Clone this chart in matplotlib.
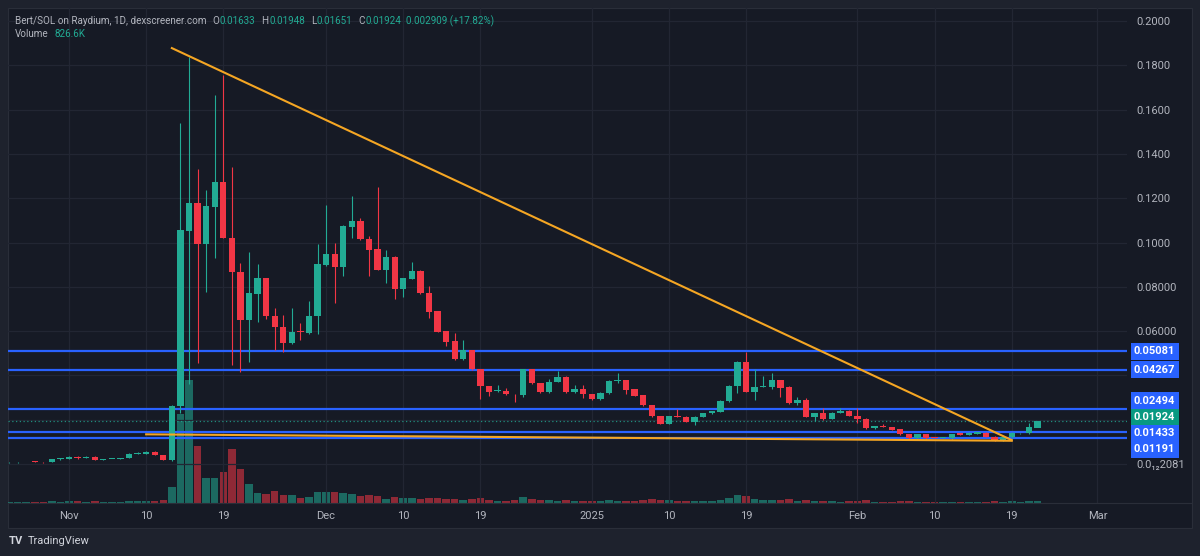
import matplotlib
matplotlib.use("Agg")
import matplotlib.pyplot as plt
import matplotlib.dates as mdates
import numpy as np
import pandas as pd
from matplotlib.patches import Rectangle
from matplotlib.lines import Line2D

plt.rcParams["font.family"] = ["Roboto", "DejaVu Sans"]

# daily candles, 2024-10-25 .. 2025-02-22
dates = pd.date_range("2024-10-25", "2025-02-22", freq="D")

opens = [
    # Oct 25-31
    0.0007, 0.0008, 0.0008, 0.0012, 0.0010, 0.0008, 0.0021,
    # Nov
    0.0024, 0.0033, 0.0026, 0.0033, 0.0019, 0.0022, 0.0022, 0.0026, 0.0046, 0.0045,
    0.0056, 0.0041, 0.0018, 0.0263, 0.1053, 0.1180, 0.0992, 0.1162, 0.1272, 0.1022,
    0.0868, 0.0650, 0.0766, 0.0838, 0.0670, 0.0620, 0.0545, 0.0599, 0.0590, 0.0668,
    # Dec
    0.0898, 0.0948, 0.0888, 0.1071, 0.1097, 0.1015, 0.0969, 0.0876, 0.0936, 0.0789,
    0.0837, 0.0873, 0.0771, 0.0691, 0.0600, 0.0555, 0.0473, 0.0515, 0.0428, 0.0352,
    0.0329, 0.0331, 0.0317, 0.0312, 0.0429, 0.0364, 0.0324, 0.0372, 0.0394, 0.0324, 0.0339,
    # Jan
    0.0316, 0.0292, 0.0319, 0.0377, 0.0379, 0.0337, 0.0311, 0.0266, 0.0217, 0.0181,
    0.0216, 0.0214, 0.0191, 0.0214, 0.0229, 0.0236, 0.0284, 0.0354, 0.0461, 0.0326,
    0.0348, 0.0349, 0.0379, 0.0349, 0.0274, 0.0289, 0.0214, 0.0232, 0.0205, 0.0232, 0.0241,
    # Feb 1-22
    0.0217, 0.0205, 0.0161, 0.0169, 0.0166, 0.0158, 0.0135, 0.0116, 0.0135, 0.0120,
    0.0119, 0.0116, 0.0138, 0.0133, 0.0137, 0.0141, 0.0123, 0.0105, 0.0121, 0.0139,
    0.0139, 0.01633,
]
highs = [
    0.0010, 0.0010, 0.0011, 0.0013, 0.0011, 0.0023, 0.0027,
    0.0035, 0.0035, 0.0035, 0.0034, 0.0024, 0.0024, 0.0029, 0.0050, 0.0056, 0.0060,
    0.0058, 0.0042, 0.0265, 0.1540, 0.1840, 0.1330, 0.1237, 0.1666, 0.1756, 0.1340,
    0.0907, 0.0959, 0.0903, 0.0840, 0.0704, 0.0673, 0.0704, 0.0637, 0.0737, 0.0992,
    0.1170, 0.0999, 0.1080, 0.1210, 0.1112, 0.1031, 0.1252, 0.0966, 0.0938, 0.0840,
    0.0913, 0.0875, 0.0804, 0.0693, 0.0602, 0.0590, 0.0560, 0.0517, 0.0430, 0.0354,
    0.0357, 0.0345, 0.0318, 0.0431, 0.0431, 0.0366, 0.0384, 0.0420, 0.0396, 0.0357, 0.0357,
    0.0318, 0.0324, 0.0378, 0.0410, 0.0381, 0.0339, 0.0313, 0.0268, 0.0219, 0.0219,
    0.0250, 0.0216, 0.0216, 0.0231, 0.0241, 0.0288, 0.0356, 0.0463, 0.0507, 0.0428,
    0.0397, 0.0410, 0.0381, 0.0351, 0.0301, 0.0296, 0.0231, 0.0251, 0.0234, 0.0251, 0.0243,
    0.0251, 0.0207, 0.0173, 0.0181, 0.0168, 0.0160, 0.0137, 0.0137, 0.0137, 0.0122,
    0.0122, 0.0137, 0.0140, 0.0143, 0.0145, 0.0143, 0.0125, 0.0123, 0.0143, 0.0142,
    0.0184, 0.01948,
]
lows = [
    0.0006, 0.0006, 0.0007, 0.0009, 0.0006, 0.0007, 0.0020,
    0.0023, 0.0024, 0.0025, 0.0017, 0.0018, 0.0021, 0.0021, 0.0025, 0.0044, 0.0044,
    0.0040, 0.0016, 0.0015, 0.0230, 0.0360, 0.0457, 0.0778, 0.0930, 0.1020, 0.0447,
    0.0417, 0.0462, 0.0643, 0.0655, 0.0515, 0.0507, 0.0543, 0.0560, 0.0588, 0.0587,
    0.0896, 0.0728, 0.0849, 0.1019, 0.1012, 0.0849, 0.0874, 0.0816, 0.0744, 0.0753,
    0.0835, 0.0769, 0.0660, 0.0595, 0.0533, 0.0471, 0.0471, 0.0426, 0.0292, 0.0307,
    0.0326, 0.0313, 0.0281, 0.0301, 0.0362, 0.0322, 0.0322, 0.0370, 0.0322, 0.0322, 0.0299,
    0.0290, 0.0290, 0.0317, 0.0364, 0.0315, 0.0305, 0.0263, 0.0213, 0.0179, 0.0179,
    0.0212, 0.0189, 0.0175, 0.0212, 0.0227, 0.0234, 0.0282, 0.0319, 0.0324, 0.0289,
    0.0346, 0.0340, 0.0301, 0.0272, 0.0265, 0.0212, 0.0196, 0.0199, 0.0203, 0.0230, 0.0215,
    0.0187, 0.0159, 0.0159, 0.0165, 0.0153, 0.0133, 0.0114, 0.0114, 0.0114, 0.0117,
    0.0117, 0.0114, 0.0129, 0.0131, 0.0135, 0.0121, 0.0103, 0.0103, 0.0119, 0.0137,
    0.0137, 0.01651,
]
closes = [
    0.0008, 0.0008, 0.0010, 0.0010, 0.0007, 0.0021, 0.0025,
    0.0033, 0.0025, 0.0033, 0.0018, 0.0023, 0.0023, 0.0028, 0.0045, 0.0048, 0.0056,
    0.0041, 0.0018, 0.0262, 0.1057, 0.1180, 0.0992, 0.1165, 0.1272, 0.1022, 0.0868,
    0.0650, 0.0771, 0.0838, 0.0668, 0.0620, 0.0545, 0.0595, 0.0596, 0.0670, 0.0903,
    0.0948, 0.0888, 0.1075, 0.1097, 0.1015, 0.0966, 0.0876, 0.0936, 0.0789, 0.0838,
    0.0871, 0.0771, 0.0688, 0.0597, 0.0552, 0.0473, 0.0515, 0.0428, 0.0352, 0.0326,
    0.0331, 0.0315, 0.0315, 0.0429, 0.0364, 0.0324, 0.0372, 0.0394, 0.0324, 0.0339, 0.0315,
    0.0292, 0.0322, 0.0376, 0.0379, 0.0334, 0.0307, 0.0265, 0.0215, 0.0181, 0.0217,
    0.0214, 0.0191, 0.0214, 0.0229, 0.0239, 0.0286, 0.0354, 0.0461, 0.0326, 0.0346,
    0.0349, 0.0379, 0.0345, 0.0274, 0.0289, 0.0214, 0.0229, 0.0205, 0.0232, 0.0241, 0.0217,
    0.0205, 0.0161, 0.0171, 0.0167, 0.0155, 0.0135, 0.0116, 0.0135, 0.0116, 0.0119,
    0.0120, 0.0135, 0.0131, 0.0141, 0.0143, 0.0123, 0.0105, 0.0121, 0.0141, 0.0140,
    0.0166, 0.01924,
]
# volume in millions
volumes = [
    0.5, 0.4, 0.6, 0.6, 0.5, 0.8, 0.6,
    0.8, 0.7, 0.6, 0.9, 0.6, 0.5, 0.6, 1.0, 0.8, 0.8, 0.8, 1.2, 6.4, 35.6, 49.2,
    22.8, 10.0, 10.0, 12.4, 21.6, 13.6, 7.6, 4.0, 3.6, 4.8, 3.2, 3.2, 2.0, 2.4, 4.4,
    4.4, 4.4, 4.0, 3.6, 2.8, 3.2, 2.8, 1.6, 2.4, 2.0, 2.0, 1.6, 2.0, 2.0, 1.6, 1.6,
    1.2, 1.6, 2.0, 1.2, 1.0, 1.0, 1.2, 2.4, 1.6, 1.2, 1.2, 1.0, 1.2, 0.8, 1.0,
    0.8, 0.8, 1.2, 1.0, 1.0, 0.8, 1.2, 1.6, 1.2, 1.2, 0.8, 0.8, 0.8, 0.8, 0.8, 1.2,
    2.0, 3.2, 2.8, 1.6, 1.2, 1.2, 1.2, 1.6, 0.8, 1.2, 0.8, 0.8, 0.8, 0.6, 0.8,
    0.8, 1.2, 0.6, 0.6, 0.6, 0.8, 0.8, 0.6, 0.6, 0.4, 0.4, 0.6, 0.4, 0.4, 0.4, 0.6,
    0.8, 0.6, 0.8, 0.4, 0.8, 0.8266,
]

levels = [0.05081, 0.04267, 0.02494, 0.01433, 0.01191]
trend_top_dates = ["2024-11-13", "2025-02-19"]
trend_top_prices = [0.1878, 0.0108]
trend_bot_dates = ["2024-11-10", "2025-02-19"]
trend_bot_prices = [0.0134, 0.0105]

tick_dates = ["2024-11-01", "2024-11-10", "2024-11-19", "2024-12-01", "2024-12-10",
              "2024-12-19", "2025-01-01", "2025-01-10", "2025-01-19", "2025-02-01",
              "2025-02-10", "2025-02-19", "2025-03-01"]
tick_labels = ["Nov", "10", "19", "Dec", "10", "19", "2025", "10", "19", "Feb", "10", "19", "Mar"]
price_ticks = [0.0, 0.02, 0.04, 0.06, 0.08, 0.10, 0.12, 0.14, 0.16, 0.18, 0.20]
# 0.02 / 0.04 labels sit under the level tags in the original, so they are left blank
price_labels = ["0.0\u2081\u20822081", "", "", "0.06000", "0.08000",
                "0.1000", "0.1200", "0.1400", "0.1600", "0.1800", "0.2000"]

BG = "#161a25"
OUTER = "#1e222d"
GRID = "#222633"
UP = "#22ab94"
DOWN = "#f23645"
TXT = "#b2b5be"
BLUE = "#2962ff"
ORANGE = "#f5a623"

W, H = 1200, 556
fig = plt.figure(figsize=(12, 5.56), dpi=100, facecolor=OUTER)

def fx(px):
    return px / W

def fy(py):
    return 1 - py / H

fig.add_artist(Rectangle((fx(8), fy(528)), fx(1192) - fx(8), fy(8) - fy(528),
                         transform=fig.transFigure, facecolor=BG, edgecolor="#2a2e39",
                         lw=0.8, zorder=-1))

rect = [fx(8), fy(503), fx(1127) - fx(8), fy(8) - fy(503)]
axv = fig.add_axes(rect, facecolor=BG)
ax = fig.add_axes(rect)
ax.patch.set_visible(False)

x = mdates.date2num(dates)
o = np.array(opens); h = np.array(highs); l = np.array(lows); c = np.array(closes)
v = np.array(volumes)
up = c >= o
cols = np.where(up, UP, DOWN)

x0 = mdates.date2num(pd.Timestamp("2024-11-01"))
xlim = (x0 - 7.12, x0 + 123.45)

# volume
axv.bar(x, v, width=0.88, color=cols, alpha=0.55, linewidth=0)
axv.set_xlim(xlim)
axv.set_ylim(0, max(volumes) * 495 / 123)
axv.axis("off")

# candles
ax.vlines(x, l, h, colors=cols, lw=0.8, zorder=3)
body = np.maximum(np.abs(c - o), 0.0003)
ax.bar(x, body, bottom=np.minimum(o, c), width=0.74, color=cols, linewidth=0, zorder=4)

for lvl in levels:
    ax.axhline(lvl, color=BLUE, lw=1.6, zorder=2)
ax.axhline(closes[-1], color=UP, lw=0.9, ls=(0, (1, 2)), alpha=0.8, zorder=2)

ax.plot(mdates.date2num(pd.to_datetime(trend_top_dates)), trend_top_prices,
        color=ORANGE, lw=1.5, zorder=6)
ax.plot(mdates.date2num(pd.to_datetime(trend_bot_dates)), trend_bot_prices,
        color=ORANGE, lw=1.5, zorder=6)

ax.set_xlim(xlim)
ax.set_ylim(-0.0176, 0.2059)
ax.set_xticks(mdates.date2num(pd.to_datetime(tick_dates)))
ax.set_xticklabels(tick_labels)
ax.set_yticks(price_ticks)
ax.set_yticklabels(price_labels)
ax.yaxis.tick_right()
ax.tick_params(axis="x", length=0, pad=6, labelsize=8, labelcolor=TXT)
ax.tick_params(axis="y", length=0, pad=7, labelsize=8, labelcolor=TXT)
ax.grid(True, color=GRID, lw=0.9)
ax.set_axisbelow(True)
for s in ax.spines.values():
    s.set_visible(False)

fig.add_artist(Line2D([fx(8), fx(1192)], [fy(503), fy(503)], transform=fig.transFigure,
                      color="#2a2e39", lw=0.8))

renderer = fig.canvas.get_renderer()

def seq_text(xp, yp, parts, size):
    for s, col, gap in parts:
        t = fig.text(fx(xp), fy(yp), s, color=col, fontsize=size, va="center", ha="left")
        bb = t.get_window_extent(renderer)
        xp = bb.x1 + gap

seq_text(15, 21, [
    ("Bert/SOL on Raydium, 1D, dexscreener.com", TXT, 6),
    ("O", TXT, 0.5), (f"{opens[-1]:.5f}", UP, 6),
    ("H", TXT, 0.5), (f"{highs[-1]:.5f}", UP, 6),
    ("L", TXT, 0.5), (f"{lows[-1]:.5f}", UP, 6),
    ("C", TXT, 0.5), (f"{closes[-1]:.5f}", UP, 5),
    ("0.002909 (+17.82%)", UP, 0),
], 7.1)
seq_text(15, 34, [("Volume", TXT, 6), (f"{volumes[-1] * 1000:.1f}K", UP, 0)], 7.1)

# right-side price tags, stacked so they do not overlap
tags = [(lv, BLUE) for lv in levels] + [(closes[-1], "#089981")]
tags.sort(key=lambda t: -t[0])
ys = [ax.transData.transform((x0, p))[1] for p, _ in tags]
bh = 16.2
clusters = [[i] for i in range(len(tags))]

def place(cl):
    cen = np.mean([ys[i] for i in cl])
    k = len(cl)
    return [cen + bh * (k - 1) / 2 - bh * j for j in range(k)]

merged = True
while merged:
    merged = False
    for a in range(len(clusters) - 1):
        pa = place(clusters[a]); pb = place(clusters[a + 1])
        if pa[-1] - pb[0] < bh:
            clusters[a] = clusters[a] + clusters[a + 1]
            del clusters[a + 1]
            merged = True
            break
for cl in clusters:
    for i, yy in zip(cl, place(cl)):
        p, col = tags[i]
        fig.text(fx(1134), yy / H, f"{p:.5f}", color="white", fontsize=8, fontweight="bold",
                 va="center", ha="left", zorder=10,
                 bbox=dict(boxstyle="square,pad=0.3", fc=col, ec="none"))

# footer
fig.text(fx(9), fy(541), "TV", color="#d1d4dc", fontsize=8, fontweight="bold", va="center")
fig.text(fx(28), fy(541), "TradingView", color="#d1d4dc", fontsize=8, va="center")

fig.savefig("out.png", dpi=100, facecolor=fig.get_facecolor())
